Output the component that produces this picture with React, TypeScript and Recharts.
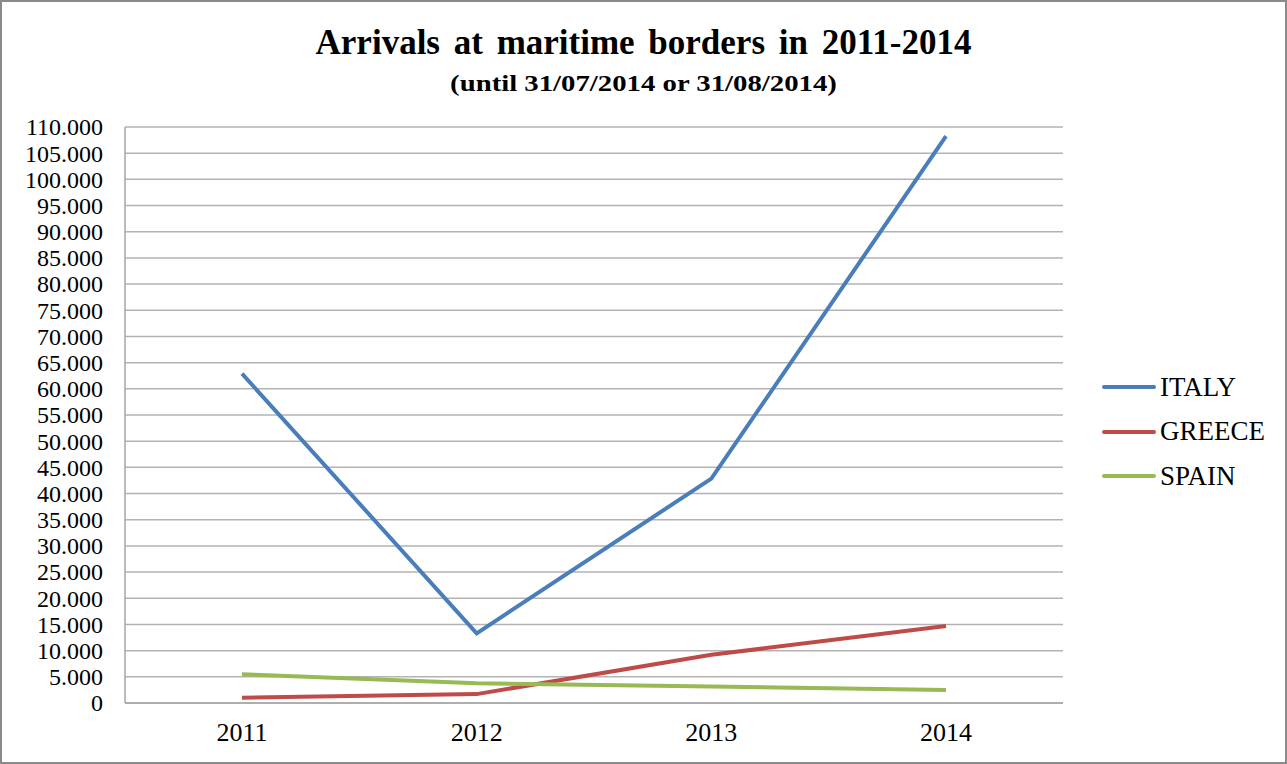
import { LineChart, Line, XAxis, YAxis, CartesianGrid } from "recharts";

// Arrivals per year
const YEARS = ["2011", "2012", "2013", "2014"];
const ITALY = [62900, 13300, 42850, 108250];
const GREECE = [1000, 1700, 9200, 14700];
const SPAIN = [5500, 3750, 3150, 2500];
const Y_TICKS = Array.from({ length: 23 }, (_, i) => i * 5000);

const SERIES = [
  { key: "ITALY", color: "#4a7ebb" },
  { key: "GREECE", color: "#be4b48" },
  { key: "SPAIN", color: "#98b954" },
];

const data = YEARS.map((year, i) => ({
  year,
  ITALY: ITALY[i],
  GREECE: GREECE[i],
  SPAIN: SPAIN[i],
}));

const FONT = '"Liberation Serif", "Times New Roman", serif';

// 110000 -> "110.000"
const formatTick = (v: number) =>
  String(v).replace(/\B(?=(\d{3})+(?!\d))/g, ".");

const YTick = ({ x, y, payload }: any) => (
  <text
    x={x}
    y={y}
    dy="0.35em"
    textAnchor="end"
    style={{ fontFamily: FONT, fontSize: 24, fill: "#000" }}
  >
    {formatTick(payload.value)}
  </text>
);

const XTick = ({ x, y, payload }: any) => (
  <text
    x={x}
    y={y}
    dy="0.71em"
    textAnchor="middle"
    style={{ fontFamily: FONT, fontSize: 26, fill: "#000" }}
  >
    {payload.value}
  </text>
);

const LegendBox = () => (
  <div
    style={{
      position: "absolute",
      left: 1100,
      top: 363,
      fontFamily: FONT,
      fontSize: 27,
      color: "#000",
    }}
  >
    {SERIES.map((s) => (
      <div key={s.key} style={{ display: "flex", alignItems: "center", height: 44.5 }}>
        <span
          style={{
            display: "inline-block",
            width: 54,
            height: 4,
            borderRadius: 2,
            background: s.color,
            marginRight: 4,
          }}
        />
        <span>{s.key}</span>
      </div>
    ))}
  </div>
);

export default function App() {
  return (
    <div
      style={{
        position: "absolute",
        left: 0,
        top: 0,
        width: 1287,
        height: 764,
        background: "#fff",
        boxSizing: "border-box",
        border: "2px solid #8a8a8a",
        fontFamily: FONT,
      }}
    >
      <div
        style={{
          position: "absolute",
          left: -2,
          width: 1287,
          top: 21,
          textAlign: "center",
          fontSize: 35,
          fontWeight: "bold",
          lineHeight: "40px",
          wordSpacing: 5,
          color: "#000",
        }}
      >
        Arrivals at maritime borders in 2011-2014
      </div>
      <div
        style={{
          position: "absolute",
          left: -2,
          width: 1287,
          top: 68,
          textAlign: "center",
          fontSize: 23,
          fontWeight: "bold",
          lineHeight: "28px",
          color: "#000",
          transform: "scaleX(1.25)",
        }}
      >
        (until 31/07/2014 or 31/08/2014)
      </div>
      <div style={{ position: "absolute", left: -2, top: -2 }}>
        <LineChart
          width={1287}
          height={764}
          data={data}
          margin={{ top: 127, right: 224, left: 0, bottom: 0 }}
        >
          <CartesianGrid vertical={false} stroke="#b3b3b3" strokeWidth={1.5} />
          <XAxis
            dataKey="year"
            height={61}
            padding={{ left: 117, right: 117 }}
            tickSize={0}
            tickMargin={20}
            axisLine={{ stroke: "#a6a6a6", strokeWidth: 1.5 }}
            tick={<XTick />}
          />
          <YAxis
            width={125}
            domain={[0, 110000]}
            ticks={Y_TICKS}
            interval={0}
            tickSize={0}
            tickMargin={22}
            axisLine={{ stroke: "#a6a6a6", strokeWidth: 1.5 }}
            tick={<YTick />}
          />
          {SERIES.map((s) => (
            <Line
              key={s.key}
              type="linear"
              dataKey={s.key}
              stroke={s.color}
              strokeWidth={4}
              dot={false}
              isAnimationActive={false}
            />
          ))}
        </LineChart>
      </div>
      <LegendBox />
    </div>
  );
}
